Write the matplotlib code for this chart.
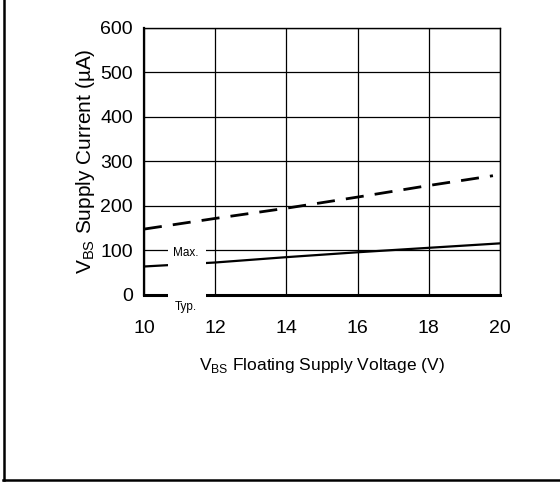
import matplotlib
matplotlib.use("Agg")
import matplotlib.pyplot as plt
from matplotlib.lines import Line2D
from matplotlib.patches import Rectangle

plt.rcParams['font.family'] = ['Liberation Sans', 'DejaVu Sans']

vbs_max = [10, 12, 14, 16, 18, 19.8]
cur_max = [148, 172, 195, 220, 246, 268]
vbs_typ = [10, 12, 14, 16, 18, 20]
cur_typ = [64, 73, 85, 96, 106, 116]
xticks = [10, 12, 14, 16, 18, 20]
yticks = [0, 100, 200, 300, 400, 500, 600]

fig = plt.figure(figsize=(5.6, 4.82), dpi=100)
ax = fig.add_axes([0.257, 0.388, 0.636, 0.554])

ax.plot(vbs_max, cur_max, color='black', lw=2, linestyle=(0, (6.5, 4)), zorder=3)
ax.plot(vbs_typ, cur_typ, color='black', lw=1.6, zorder=3)

ax.set_xlim(10, 20)
ax.set_ylim(0, 600)
ax.set_xticks(xticks)
ax.set_yticks(yticks)
ax.grid(True, color='black', lw=0.9)
ax.tick_params(length=0, labelsize=14, pad=8)
ax.tick_params(axis='x', pad=18)
for s in ['top', 'right']:
    ax.spines[s].set_linewidth(1.0)
ax.spines['left'].set_linewidth(1.6)
ax.spines['bottom'].set_linewidth(2.2)

ax.set_ylabel('V$_{\\mathregular{BS}}$ Supply Current (µA)', fontsize=15, labelpad=2)
ax.set_xlabel('V$_{\\mathregular{BS}}$ Floating Supply Voltage (V)', fontsize=12.5, labelpad=14)

# white mask box with labels
fig.patches.append(Rectangle((168/560, 1 - 318/482), (206 - 168)/560, (318 - 244)/482,
                             transform=fig.transFigure, facecolor='white', edgecolor='none', zorder=5))
fig.text(186/560, 1 - 253/482, 'Max.', fontsize=8.5, ha='center', va='center', zorder=6)
fig.text(186/560, 1 - 307/482, 'Typ.', fontsize=8.5, ha='center', va='center', zorder=6)

# frame lines on left and bottom
fig.add_artist(Line2D([4/560, 4/560], [2/482, 1], transform=fig.transFigure, color='black', lw=1.8))
fig.add_artist(Line2D([3/560, 1], [2/482, 2/482], transform=fig.transFigure, color='black', lw=1.8))

fig.savefig('out.png', dpi=100)
